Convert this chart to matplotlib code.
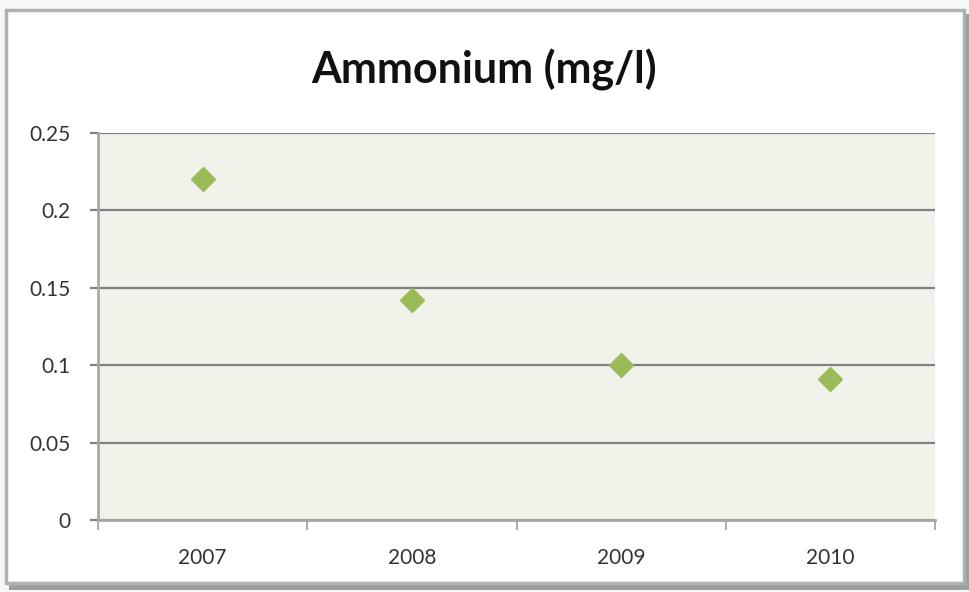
import matplotlib
matplotlib.use("Agg")
import matplotlib.pyplot as plt
from matplotlib.patches import Rectangle

years = ["2007", "2008", "2009", "2010"]
ammonium = [0.22, 0.142, 0.10, 0.091]
y_ticks = [0, 0.05, 0.1, 0.15, 0.2, 0.25]
y_labels = ["0", "0.05", "0.1", "0.15", "0.2", "0.25"]
title = "Ammonium (mg/l)"

W, H = 969, 592
fig = plt.figure(figsize=(W / 100, H / 100), dpi=100)
fig.patch.set_facecolor("#f7f7f7")

def fx(px):
    return px / W

def fy(py):
    return 1 - py / H

# shadow and chart frame
fig.patches.append(Rectangle((fx(9), fy(590)), fx(960), (590 - 14) / H,
                             transform=fig.transFigure, facecolor="#8f8f8f",
                             edgecolor="none", zorder=0, alpha=0.85))
fig.patches.append(Rectangle((fx(6), fy(583)), fx(958), (583 - 10) / H,
                             transform=fig.transFigure, facecolor="white",
                             edgecolor="#b0b0b0", linewidth=2.5, zorder=1))

ax = fig.add_axes([fx(98), fy(520), fx(935 - 98), (520 - 133) / H])
ax.set_zorder(2)
ax.set_facecolor("#f1f2ea")

x = list(range(len(years)))
ax.plot(x, ammonium, linestyle="none", marker="D", markersize=12,
        color="#9bbb59", markeredgecolor="#9bbb59", zorder=3, clip_on=False)

ax.set_xlim(-0.5, len(years) - 0.5)
ax.set_ylim(0, 0.25)
ax.set_yticks(y_ticks)
ax.set_yticklabels(y_labels)
ax.yaxis.grid(True, color="#808080", linewidth=1.6)
ax.set_axisbelow(True)

ax.set_xticks(x)
ax.set_xticklabels(years)
ax.set_xticks([i - 0.5 for i in range(len(years) + 1)], minor=True)
ax.tick_params(axis="x", which="major", length=0, pad=20, labelsize=15,
               labelcolor="#333333")
ax.tick_params(axis="x", which="minor", length=7, width=1.2, color="#a0a0a0",
               direction="out")
ax.tick_params(axis="y", length=6, width=1.6, color="#808080", pad=14,
               labelsize=15, labelcolor="#333333")

for s in ["top", "right"]:
    ax.spines[s].set_visible(False)
ax.spines["left"].set_color("#a8a8a8")
ax.spines["left"].set_linewidth(2)
ax.spines["bottom"].set_color("#a8a8a8")
ax.spines["bottom"].set_linewidth(2)

for lab in ax.get_xticklabels() + ax.get_yticklabels():
    lab.set_fontfamily(["Lato", "DejaVu Sans"])

fig.text(0.5, fy(70), title, ha="center", va="center", fontsize=31,
         fontweight="bold", family=["Lato", "DejaVu Sans"], color="#111111")

fig.savefig("out.png", dpi=100, facecolor=fig.get_facecolor())
